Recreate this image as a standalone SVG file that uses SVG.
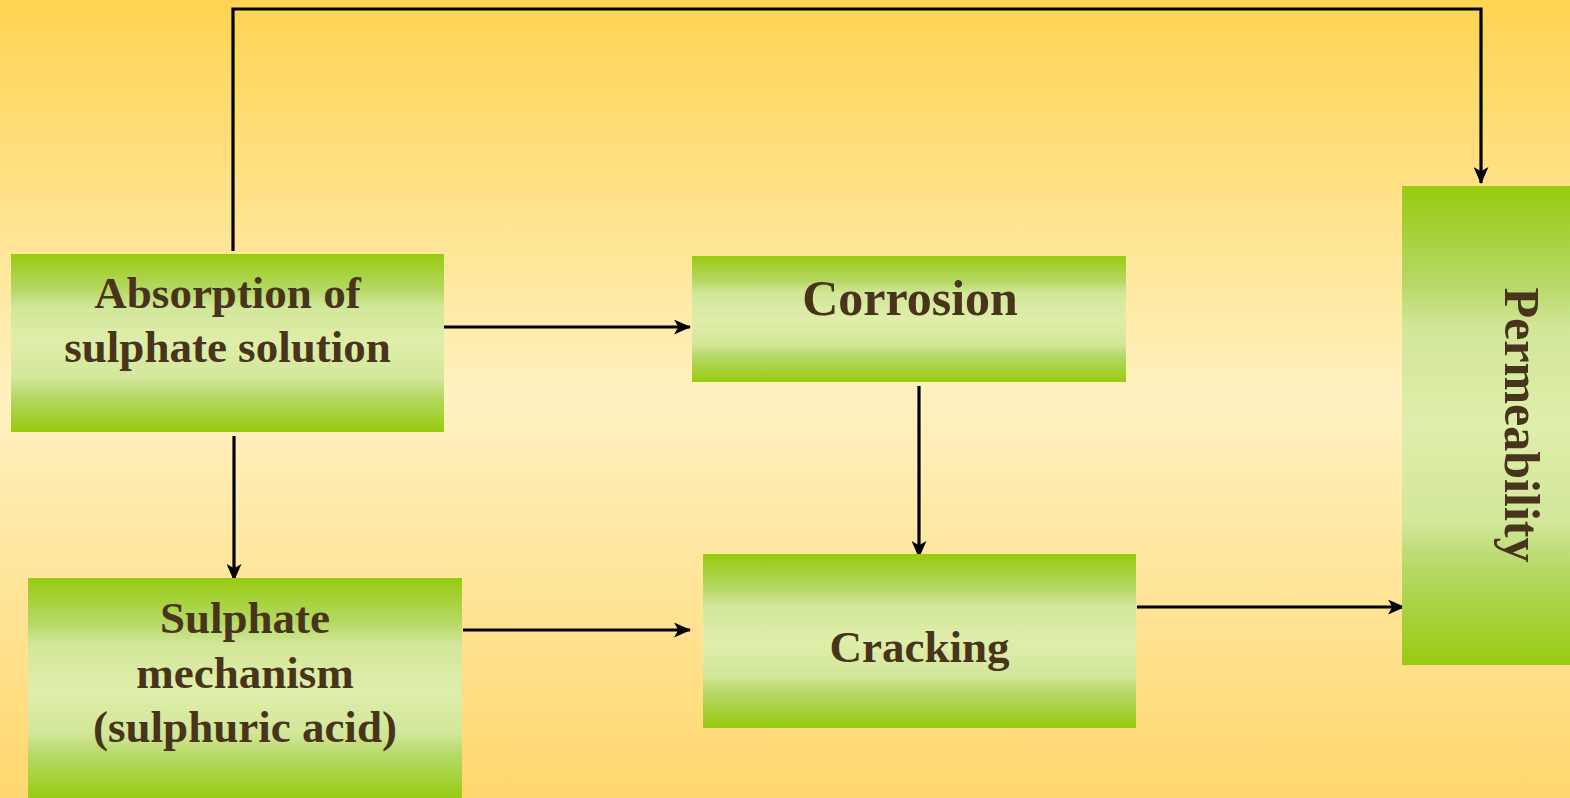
<svg xmlns="http://www.w3.org/2000/svg" width="1570" height="798" viewBox="0 0 1570 798">
<defs>
<linearGradient id="bg" x1="0" y1="0" x2="0" y2="1">
<stop offset="0" stop-color="#ffd452"/>
<stop offset="0.5" stop-color="#fff1c0"/>
<stop offset="1" stop-color="#ffd76e"/>
</linearGradient>
<linearGradient id="box" x1="0" y1="0" x2="0" y2="1">
<stop offset="0" stop-color="#97cb0f"/>
<stop offset="0.2" stop-color="#b6d865"/>
<stop offset="0.3" stop-color="#d2e79a"/>
<stop offset="0.5" stop-color="#dfeeaa"/>
<stop offset="0.7" stop-color="#d2e79a"/>
<stop offset="0.8" stop-color="#b6d865"/>
<stop offset="1" stop-color="#97cb0f"/>
</linearGradient>
<marker id="arr" viewBox="0 0 16 14" refX="15" refY="7" markerWidth="17" markerHeight="15" markerUnits="userSpaceOnUse" orient="auto">
<path d="M0,0 L16,7 L0,14 L4,7 Z" fill="#000"/>
</marker>
<style>
.box{fill:url(#box);}
.t{font-family:"Liberation Serif","Times New Roman",serif;font-weight:bold;fill:#47341a;text-anchor:middle;}
.c{fill:none;stroke:#000;stroke-width:3.2;}
</style>
</defs>
<rect x="0" y="0" width="1570" height="798" fill="url(#bg)"/>
<g id="connectors">
<path class="c" d="M233,251 V9 H1481 V183" marker-end="url(#arr)"/>
<path class="c" d="M444,327 H690" marker-end="url(#arr)"/>
<path class="c" d="M234,436 V580" marker-end="url(#arr)"/>
<path class="c" d="M463,630 H690" marker-end="url(#arr)"/>
<path class="c" d="M919,386 V557" marker-end="url(#arr)"/>
<path class="c" d="M1137,607 H1404" marker-end="url(#arr)"/>
</g>
<g id="absorption">
<rect class="box" x="11" y="254" width="433" height="178"/>
<text class="t" font-size="45" x="227.5" y="308">Absorption of</text>
<text class="t" font-size="45" x="227.5" y="362">sulphate solution</text>
</g>
<g id="corrosion">
<rect class="box" x="692" y="256" width="434" height="126"/>
<text class="t" font-size="50" x="910" y="315">Corrosion</text>
</g>
<g id="sulphate">
<rect class="box" x="28" y="578" width="434" height="222"/>
<text class="t" font-size="45" x="245" y="633">Sulphate</text>
<text class="t" font-size="45" x="245" y="688">mechanism</text>
<text class="t" font-size="45" x="245" y="742">(sulphuric acid)</text>
</g>
<g id="cracking">
<rect class="box" x="703" y="554" width="433" height="174"/>
<text class="t" font-size="45" x="919.5" y="662">Cracking</text>
</g>
<g id="permeability">
<rect class="box" x="1402" y="186" width="170" height="479"/>
<text class="t" font-size="50" transform="translate(1505,425) rotate(90)" x="0" y="0">Permeability</text>
</g>
</svg>
